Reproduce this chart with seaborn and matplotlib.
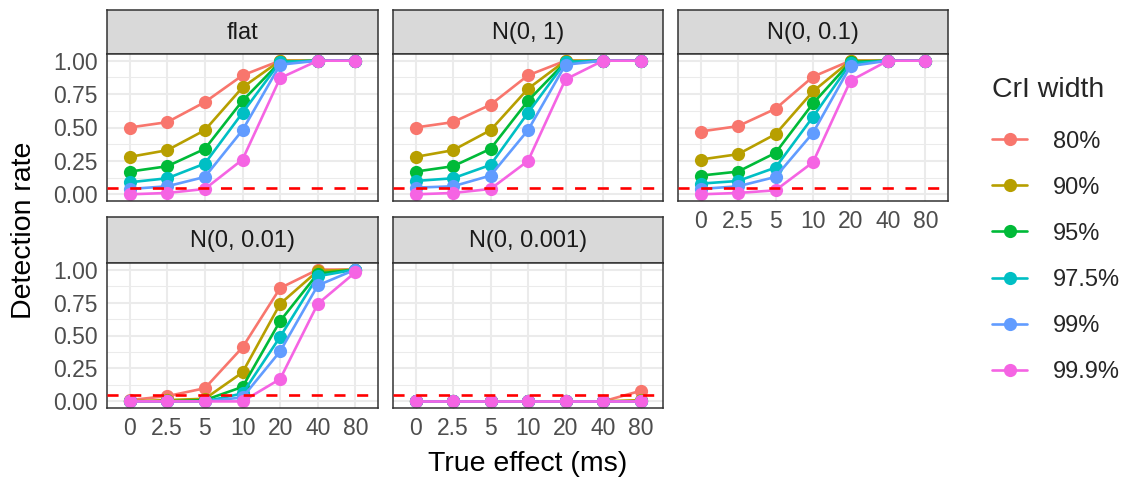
import numpy as np
import pandas as pd
import matplotlib
matplotlib.use('Agg')
import matplotlib.pyplot as plt
import seaborn as sns

# x categories (true effect, ms) and CrI widths
effects = ['0', '2.5', '5', '10', '20', '40', '80']
widths = ['80%', '90%', '95%', '97.5%', '99%', '99.9%']
priors = ['flat', 'N(0, 1)', 'N(0, 0.1)', 'N(0, 0.01)', 'N(0, 0.001)']

# detection rates, one list per CrI width
flat_rates = [
    [0.50, 0.54, 0.69, 0.89, 1.00, 1.00, 1.00],
    [0.28, 0.33, 0.48, 0.80, 1.00, 1.00, 1.00],
    [0.17, 0.21, 0.34, 0.70, 0.99, 1.00, 1.00],
    [0.09, 0.12, 0.23, 0.61, 0.99, 1.00, 1.00],
    [0.04, 0.06, 0.13, 0.48, 0.97, 1.00, 1.00],
    [0.00, 0.01, 0.04, 0.26, 0.87, 1.00, 1.00],
]
n1_rates = [
    [0.50, 0.54, 0.67, 0.89, 1.00, 1.00, 1.00],
    [0.28, 0.33, 0.48, 0.79, 1.00, 1.00, 1.00],
    [0.17, 0.21, 0.34, 0.70, 0.99, 1.00, 1.00],
    [0.10, 0.12, 0.22, 0.61, 0.99, 1.00, 1.00],
    [0.05, 0.06, 0.14, 0.48, 0.97, 1.00, 1.00],
    [0.00, 0.01, 0.04, 0.25, 0.86, 1.00, 1.00],
]
n01_rates = [
    [0.47, 0.51, 0.64, 0.88, 1.00, 1.00, 1.00],
    [0.26, 0.30, 0.45, 0.77, 1.00, 1.00, 1.00],
    [0.14, 0.17, 0.31, 0.68, 0.99, 1.00, 1.00],
    [0.08, 0.10, 0.20, 0.58, 0.98, 1.00, 1.00],
    [0.04, 0.06, 0.13, 0.46, 0.96, 1.00, 1.00],
    [0.00, 0.01, 0.03, 0.24, 0.85, 1.00, 1.00],
]
n001_rates = [
    [0.01, 0.04, 0.10, 0.41, 0.86, 1.00, 1.00],
    [0.00, 0.01, 0.02, 0.22, 0.74, 0.99, 1.00],
    [0.00, 0.00, 0.01, 0.11, 0.61, 0.97, 1.00],
    [0.00, 0.00, 0.00, 0.06, 0.49, 0.95, 1.00],
    [0.00, 0.00, 0.00, 0.03, 0.38, 0.88, 1.00],
    [0.00, 0.00, 0.00, 0.00, 0.17, 0.74, 0.98],
]
n0001_rates = [
    [0.00, 0.00, 0.00, 0.00, 0.00, 0.00, 0.08],
    [0.00, 0.00, 0.00, 0.00, 0.00, 0.00, 0.01],
    [0.00, 0.00, 0.00, 0.00, 0.00, 0.00, 0.00],
    [0.00, 0.00, 0.00, 0.00, 0.00, 0.00, 0.00],
    [0.00, 0.00, 0.00, 0.00, 0.00, 0.00, 0.00],
    [0.00, 0.00, 0.00, 0.00, 0.00, 0.00, 0.00],
]
threshold = 0.05

all_rates = [flat_rates, n1_rates, n01_rates, n001_rates, n0001_rates]
rows = []
for p, rates in zip(priors, all_rates):
    for w, vals in zip(widths, rates):
        for i, v in enumerate(vals):
            rows.append((p, w, i, v))
df = pd.DataFrame(rows, columns=['prior', 'width', 'xi', 'rate'])

palette = ['#F8766D', '#B79F00', '#00BA38', '#00BFC4', '#619CFF', '#F564E3']

sns.set_style('white')
plt.rcParams['font.family'] = ['Liberation Sans', 'DejaVu Sans']

W, H = 1126, 479
fig = plt.figure(figsize=(W / 100, H / 100), dpi=100)

def box(x0, y0, x1, y1):
    # pixel box (top-left origin) -> figure fraction rect
    return [x0 / W, 1 - y1 / H, (x1 - x0) / W, (y1 - y0) / H]

col_x = [(107, 378), (393, 663), (678, 948)]
row_y = [(10, 54, 201), (217, 263, 408)]
grid_pos = [(0, 0), (0, 1), (0, 2), (1, 0), (1, 1)]

dark = '#333333'
txt = '#4D4D4D'
handles = labels = None

for k, prior in enumerate(priors):
    r, c = grid_pos[k]
    x0, x1 = col_x[c]
    st, pt, pb = row_y[r]
    sax = fig.add_axes(box(x0, st, x1, pt))
    sax.set_facecolor('#D9D9D9')
    sax.set_xticks([]); sax.set_yticks([])
    for s in sax.spines.values():
        s.set_color(dark); s.set_linewidth(1.1)
    sax.text(0.5, 0.47, prior, ha='center', va='center', fontsize=17, color='#1A1A1A',
             transform=sax.transAxes)

    ax = fig.add_axes(box(x0, pt, x1, pb))
    sub = df[df['prior'] == prior]
    sns.lineplot(data=sub, x='xi', y='rate', hue='width', hue_order=widths, palette=palette,
                 marker='o', markersize=9.5, markeredgewidth=0, linewidth=1.9, ax=ax,
                 legend=(k == 0))
    ax.axhline(threshold, color='#FF0000', linestyle=(0, (4.2, 4.4)), linewidth=1.9, zorder=5)
    ax.set_xlim(-0.6, 6.6)
    ax.set_ylim(-0.05, 1.05)
    ax.set_xticks(range(len(effects)))
    ax.set_yticks([0, 0.25, 0.5, 0.75, 1.0])
    ax.set_yticks([0.125, 0.375, 0.625, 0.875], minor=True)
    ax.grid(True, which='major', color='#EBEBEB', linewidth=1.5)
    ax.grid(True, which='minor', axis='y', color='#EBEBEB', linewidth=0.75)
    ax.set_axisbelow(True)
    for s in ax.spines.values():
        s.set_color(dark); s.set_linewidth(1.1)
    ax.set_xlabel(''); ax.set_ylabel('')
    ax.tick_params(which='minor', length=0)
    ax.tick_params(which='major', length=4, width=1.1, color=dark, labelsize=16.5,
                   labelcolor=txt, pad=2.5)
    if c == 0:
        ax.set_yticklabels(['0.00', '0.25', '0.50', '0.75', '1.00'])
    else:
        ax.tick_params(axis='y', length=0, labelleft=False)
    if r == 1 or c == 2:
        ax.set_xticklabels(effects)
    else:
        ax.tick_params(axis='x', length=0, labelbottom=False)
    if k == 0:
        handles, labels = ax.get_legend_handles_labels()
        ax.get_legend().remove()

fig.text(528 / W, 1 - 464 / H, 'True effect (ms)', ha='center', va='center', fontsize=20.5,
         color='black')
fig.text(24 / W, 1 - 230 / H, 'Detection rate', ha='center', va='center', rotation=90,
         fontsize=20.5, color='black')

leg = fig.legend(handles, labels, title='CrI width', loc='upper left',
                 bbox_to_anchor=(980 / W, 1 - 65 / H), frameon=False, fontsize=17,
                 title_fontsize=20.5, handlelength=1.5, handletextpad=1.1, labelspacing=1.02,
                 borderpad=0)
leg._legend_box.align = 'left'
leg._legend_box.sep = 20

fig.savefig('out.png', dpi=100)
